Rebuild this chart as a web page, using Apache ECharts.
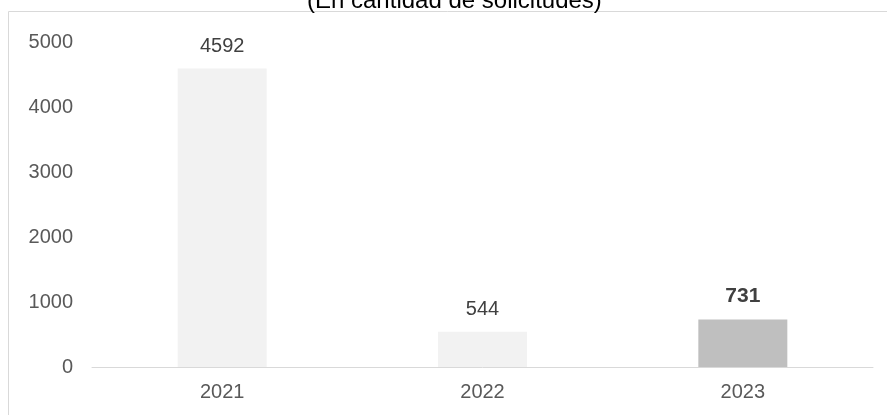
<!DOCTYPE html>
<html>
<head>
<meta charset="utf-8">
<script src="https://cdn.jsdelivr.net/npm/echarts@6/dist/echarts.min.js"></script>
<style>
  html, body { margin: 0; padding: 0; background: #fff; }
  #chart { width: 887px; height: 415px; }
</style>
</head>
<body>
<div id="chart"></div>
<script>
// chart data
const years = ['2021', '2022', '2023'];
const requests = [4592, 544, 731];
const highlightYear = '2023';

const myChart = echarts.init(document.getElementById('chart'));
const font = 'Liberation Sans, Arial, sans-serif';

const option = {
  animation: false,
  title: {
    text: '(En cantidad de solicitudes)',
    left: 302,
    top: -16,
    textStyle: { fontFamily: font, fontSize: 24, fontWeight: 'normal', color: '#000' }
  },
  graphic: [
    { type: 'line', shape: { x1: 8.5, y1: 11.5, x2: 887, y2: 11.5 }, style: { stroke: '#d9d9d9', lineWidth: 1 } },
    { type: 'line', shape: { x1: 8.5, y1: 11.5, x2: 8.5, y2: 415 }, style: { stroke: '#d9d9d9', lineWidth: 1 } }
  ],
  grid: { left: 92, right: 14, top: 42, bottom: 48, containLabel: false },
  xAxis: {
    type: 'category',
    data: years,
    axisLine: { lineStyle: { color: '#d9d9d9', width: 1 } },
    axisTick: { show: false },
    axisLabel: { fontFamily: font, fontSize: 20, color: '#595959', margin: 15 }
  },
  yAxis: {
    type: 'value',
    min: 0,
    max: 5000,
    interval: 1000,
    splitLine: { show: false },
    axisLine: { show: false },
    axisTick: { show: false },
    axisLabel: { fontFamily: font, fontSize: 20, color: '#595959', margin: 19, formatter: v => String(v) }
  },
  series: [{
    type: 'bar',
    barWidth: 89,
    data: requests.map((v, i) => {
      const hi = years[i] === highlightYear;
      return {
        value: v,
        itemStyle: { color: hi ? '#bfbfbf' : '#f2f2f2' },
        label: hi ? { fontWeight: 'bold', fontSize: 21, distance: 13, color: '#404040' } : {}
      };
    }),
    label: {
      show: true,
      position: 'top',
      distance: 12,
      fontFamily: font,
      fontSize: 20,
      color: '#404040'
    }
  }]
};

myChart.setOption(option);
window.addEventListener('resize', () => myChart.resize());
</script>
</body>
</html>
